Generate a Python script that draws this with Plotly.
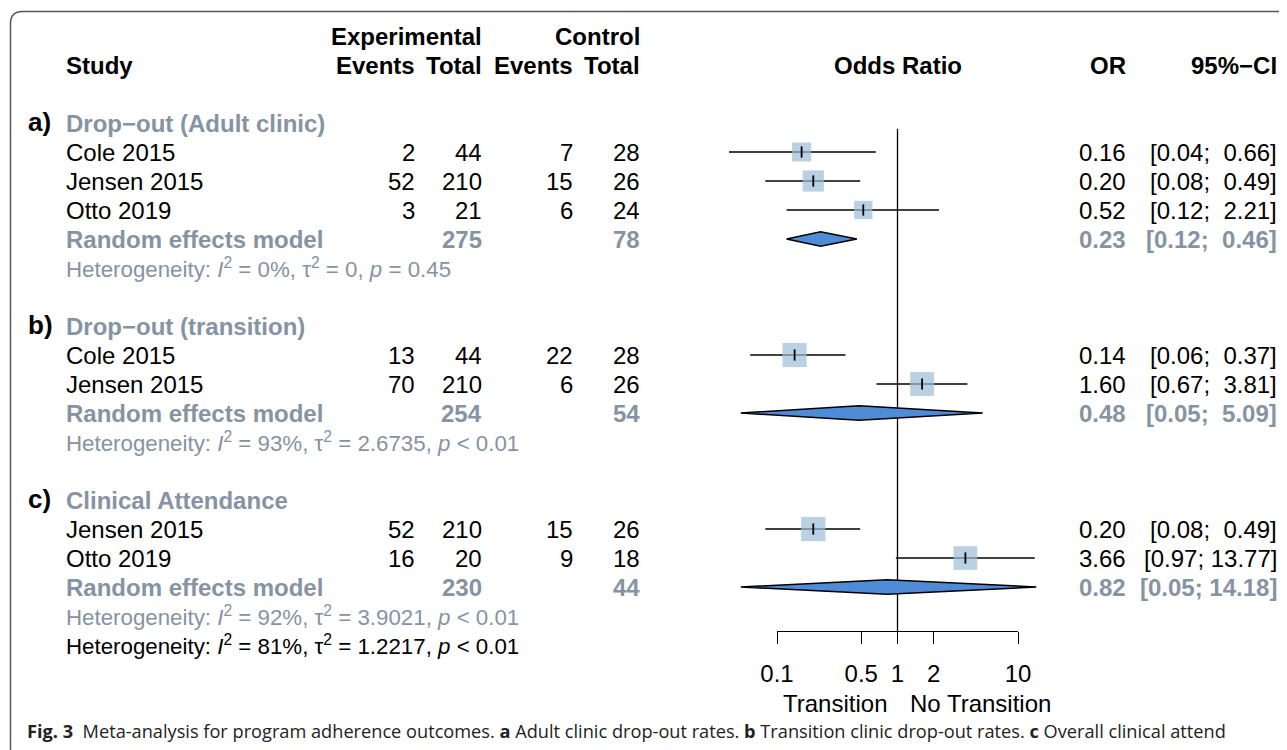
import math
import plotly.graph_objects as go

# The page body adds an 8px margin; the figure is sized so that it fills the window.
OX, OY = 8, 8
W, H = 1287 - OX, 750 - OY

# ---------------- data ----------------
group_letters = ["a)", "b)", "c)"]
group_titles = ["Drop\u2212out (Adult clinic)", "Drop\u2212out (transition)", "Clinical Attendance"]

study_names = ["Cole 2015", "Jensen 2015", "Otto 2019",
               "Cole 2015", "Jensen 2015",
               "Jensen 2015", "Otto 2019"]
study_group = [0, 0, 0, 1, 1, 2, 2]
exp_events = [2, 52, 3, 13, 70, 52, 16]
exp_total = [44, 210, 21, 44, 210, 210, 20]
ctl_events = [7, 15, 6, 22, 6, 15, 9]
ctl_total = [28, 26, 24, 28, 26, 26, 18]
or_est = [0.16, 0.20, 0.52, 0.14, 1.60, 0.20, 3.66]
or_lo = [0.04, 0.08, 0.12, 0.06, 0.67, 0.08, 0.97]
or_hi = [0.66, 0.49, 2.21, 0.37, 3.81, 0.49, 13.77]
weight_pct = [31.5, 39.0, 29.5, 50.5, 49.5, 51.0, 49.0]

re_exp_total = [275, 254, 230]
re_ctl_total = [78, 54, 44]
re_est = [0.23, 0.48, 0.82]
re_lo = [0.12, 0.05, 0.05]
re_hi = [0.46, 5.09, 14.18]

het_i2 = ["0%", "93%", "92%"]
het_tau2 = ["0", "2.6735", "3.9021"]
het_p = ["= 0.45", "< 0.01", "< 0.01"]
overall_het = ("81%", "1.2217", "< 0.01")

tick_vals = [0.1, 0.5, 1, 2, 10]
tick_text = ["0.1", "0.5", "1", "2", "10"]
label_left = "Transition"
label_right = "No Transition"

caption = ("<b>Fig. 3</b>  Meta-analysis for program adherence outcomes. <b>a</b> Adult clinic drop-out rates. "
           "<b>b</b> Transition clinic drop-out rates. <b>c</b> Overall clinical attend")

# ---------------- style ----------------
FONT = "Liberation Sans"
GRAY = "#8693a3"
SQ_COLOR = "#9bbdd7"
DIA_COLOR = "#4f8bd6"
FS = 24
FS_LETTER = 26
FS_HET = 22.3

ROW0_PX, ROW_H = 123.0, 29.0      # window pixel of row 0, row height
X_REF_PX, DEC_PX = 897.5, 120.5   # window pixel of OR=1, pixels per decade


def px(xp):
    return (xp - OX) / W


def py(yp):
    return 1 - (yp - OY) / H


# column anchors (window pixels)
LETTER_X, STUDY_X = 28, 66
EE_X, ET_X, CE_X, CT_X = 415, 482, 573, 640
OR_X, CI_X = 1126, 1277

fig = go.Figure()
ann = []


def text(x, row, s, anchor="left", bold=False, color="black", size=FS, font=FONT):
    shift = {"left": -1, "right": 1, "center": 0}[anchor]
    ann.append(dict(x=px(x), y=row, xref="paper", yref="y", text=(f"<b>{s}</b>" if bold else s),
                    showarrow=False, xanchor=anchor, yanchor="middle", xshift=shift, borderpad=0,
                    font=dict(family=font, size=size, color=color)))


def fmt_ci(lo, hi):
    hs = f"{hi:.2f}"
    pad = "\u00a0" * (5 - len(hs))
    return f"[{lo:.2f}; {pad}{hs}]"


def het_text(i2, tau2, p):
    return (f"Heterogeneity: <i>I</i><sup>2</sup> = {i2}, \u03c4<sup>2</sup> = {tau2}, <i>p</i> {p}")


# headers
text(ET_X, -2.97, "Experimental", "right", True)
text(CT_X, -2.97, "Control", "right", True)
text(STUDY_X, -2.0, "Study", "left", True)
text(EE_X, -2.0, "Events", "right", True)
text(ET_X, -2.0, "Total", "right", True)
text(CE_X, -2.0, "Events", "right", True)
text(CT_X, -2.0, "Total", "right", True)
text(X_REF_PX, -2.0, "Odds Ratio", "center", True)
text(OR_X, -2.0, "OR", "right", True)
text(CI_X, -2.0, "95%\u2212CI", "right", True)

# rows
row = 0
study_rows = []
re_rows = []
for g in range(3):
    text(LETTER_X, row - 0.04, group_letters[g], "left", True, size=FS_LETTER)
    text(STUDY_X, row, group_titles[g], "left", True, GRAY)
    row += 1
    for i, sg in enumerate(study_group):
        if sg != g:
            continue
        study_rows.append(row)
        text(STUDY_X, row, study_names[i])
        text(EE_X, row, str(exp_events[i]), "right")
        text(ET_X, row, str(exp_total[i]), "right")
        text(CE_X, row, str(ctl_events[i]), "right")
        text(CT_X, row, str(ctl_total[i]), "right")
        text(OR_X, row, f"{or_est[i]:.2f}", "right")
        text(CI_X, row, fmt_ci(or_lo[i], or_hi[i]), "right")
        row += 1
    re_rows.append(row)
    text(STUDY_X, row, "Random effects model", "left", True, GRAY)
    text(ET_X, row, str(re_exp_total[g]), "right", True, GRAY)
    text(CT_X, row, str(re_ctl_total[g]), "right", True, GRAY)
    text(OR_X, row, f"{re_est[g]:.2f}", "right", True, GRAY)
    text(CI_X, row, fmt_ci(re_lo[g], re_hi[g]), "right", True, GRAY)
    row += 1
    text(STUDY_X, row, het_text(het_i2[g], het_tau2[g], het_p[g]), "left", False, GRAY, FS_HET)
    row += 1
    if g < 2:
        row += 1
overall_row = row
text(STUDY_X, overall_row, het_text(*overall_het), "left", False, "black", FS_HET)

axis_row = (631 - ROW0_PX) / ROW_H
label_row = axis_row + 2.5

# reference line at OR = 1
fig.add_trace(go.Scatter(x=[1, 1], y=[0.2, axis_row], mode="lines",
                         line=dict(color="black", width=1.3), hoverinfo="skip", showlegend=False))

# CI lines
cx, cy = [], []
for i in range(len(or_est)):
    cx += [or_lo[i], or_hi[i], None]
    cy += [study_rows[i], study_rows[i], None]
fig.add_trace(go.Scatter(x=cx, y=cy, mode="lines", line=dict(color="black", width=1.3),
                         hoverinfo="skip", showlegend=False))

# squares (size from weight)
sizes = [3.39 * math.sqrt(w) for w in weight_pct]
fig.add_trace(go.Scatter(x=or_est, y=study_rows, mode="markers",
                         marker=dict(symbol="square", size=sizes, color=SQ_COLOR, line=dict(width=0)),
                         hoverinfo="skip", showlegend=False))
fig.add_trace(go.Scatter(x=or_est, y=study_rows, mode="markers",
                         marker=dict(symbol="line-ns-open", size=8, color="black",
                                     line=dict(color="black", width=1.8)),
                         hoverinfo="skip", showlegend=False))

# diamonds
for g in range(3):
    r = re_rows[g]
    h = 0.25
    fig.add_trace(go.Scatter(x=[re_lo[g], re_est[g], re_hi[g], re_est[g], re_lo[g]],
                             y=[r, r - h, r, r + h, r], mode="lines", fill="toself",
                             fillcolor=DIA_COLOR, line=dict(color="black", width=1.5),
                             hoverinfo="skip", showlegend=False))

# axis subplot (invisible trace)
fig.add_trace(go.Scatter(x=[1], y=[0.5], xaxis="x2", yaxis="y2", mode="markers",
                         marker=dict(opacity=0), hoverinfo="skip", showlegend=False))

# left/right labels
text(X_REF_PX - 11, label_row, label_left, "right")
text(X_REF_PX + 12, label_row, label_right, "left")

# caption
ann.append(dict(x=px(26), y=py(731), xref="paper", yref="paper", text=caption, showarrow=False,
                xanchor="left", yanchor="middle", borderpad=0,
                font=dict(family="Open Sans", size=18.2, color="#222222")))


# border frame
def P(xp, yp):
    return f"{px(xp):.5f},{py(yp):.5f}"


x0, y0, rr = 10.5, 11.5, 12
path = (f"M {P(x0, 760)} L {P(x0, y0 + rr)} Q {P(x0, y0)} {P(x0 + rr, y0)} L {P(1300, y0)}")

xr_lo = (OX - X_REF_PX) / DEC_PX
xr_hi = (OX + W - X_REF_PX) / DEC_PX
y_top = (OY - ROW0_PX) / ROW_H
y_bot = (OY + H - ROW0_PX) / ROW_H
ax_bottom = py(631)

fig.update_layout(
    width=W, height=H, margin=dict(l=0, r=0, t=0, b=0, pad=0, autoexpand=False),
    paper_bgcolor="white", plot_bgcolor="rgba(0,0,0,0)",
    xaxis=dict(type="log", range=[xr_lo, xr_hi], domain=[0, 1], visible=False),
    yaxis=dict(range=[y_bot, y_top], domain=[0, 1], visible=False),
    xaxis2=dict(type="log", range=[-1, 1], domain=[px(777), px(1018)], anchor="y2",
                showline=True, linecolor="black", linewidth=1.3, ticks="outside", ticklen=12,
                tickwidth=1.3, tickcolor="black", tickmode="array", tickvals=tick_vals,
                ticktext=tick_text, tickfont=dict(family=FONT, size=FS, color="black"),
                showgrid=False, zeroline=False, ticklabelstandoff=9, automargin=False),
    yaxis2=dict(domain=[ax_bottom, ax_bottom + 0.01], range=[0, 1], visible=False),
    annotations=ann,
    shapes=[dict(type="path", path=path, xref="paper", yref="paper",
                 line=dict(color="#555555", width=1.5))],
    showlegend=False,
)

fig.write_html("out.html")
